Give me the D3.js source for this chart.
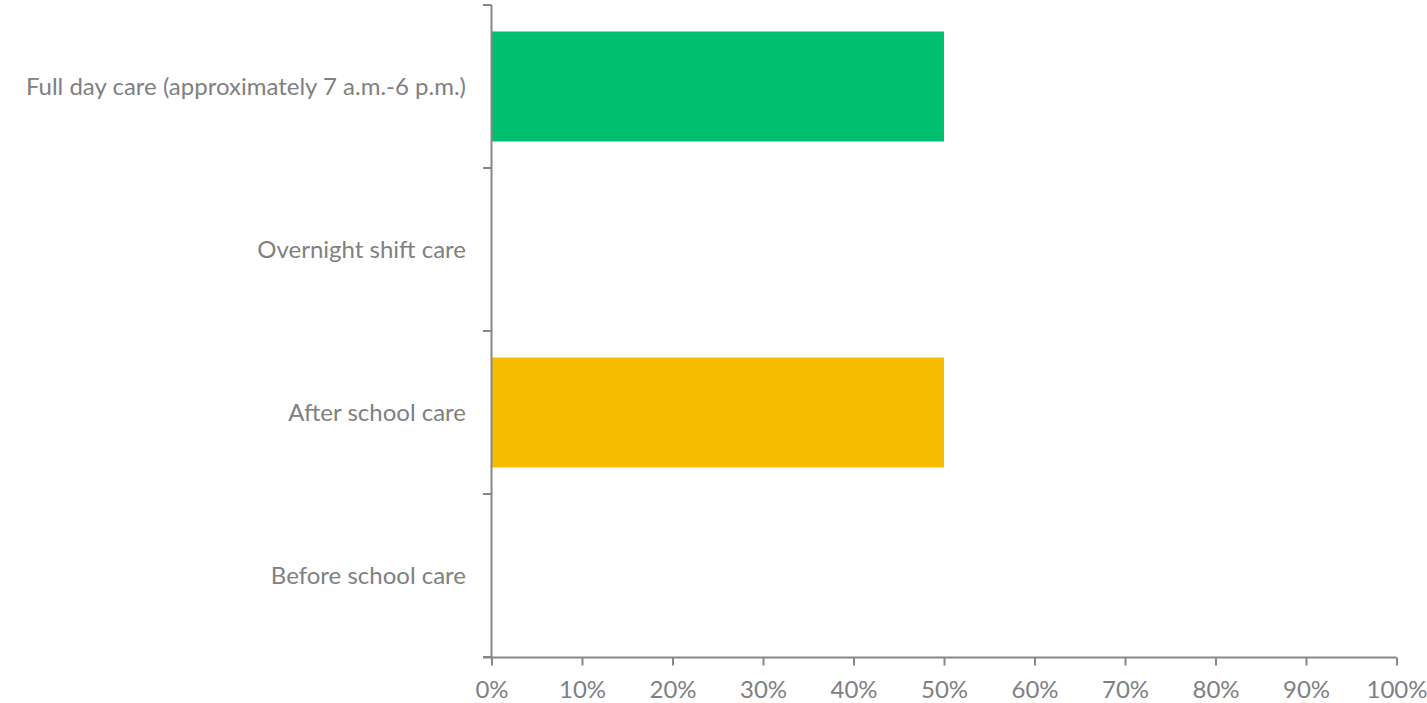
<!DOCTYPE html>
<html><head><meta charset="utf-8">
<script src="https://cdn.jsdelivr.net/npm/d3@7"></script>
<style>
html,body{margin:0;padding:0;background:#fff;}
svg{display:block;}
</style></head>
<body>
<svg id="c" width="1427" height="703"></svg>
<script>
const categories = ["Full day care (approximately 7 a.m.-6 p.m.)", "Overnight shift care", "After school care", "Before school care"];
const values = [0.5, 0, 0.5, 0];
const barColors = ["#00BF6F", "#4472C4", "#F5BC00", "#ED7D31"];
const tickValues = [0,0.1,0.2,0.3,0.4,0.5,0.6,0.7,0.8,0.9,1.0];

const svg = d3.select("#c");
const axisColor = "#878787";
const textColor = "#808080";
const font = "Lato, 'Open Sans', sans-serif";
const fontSize = 24;

const x = d3.scaleLinear().domain([0,1]).range([491.5, 1396.5]);
const y = d3.scaleBand().domain(categories).range([5, 657]).paddingInner(0.325).paddingOuter(0.1625);

svg.selectAll("rect.bar").data(categories).join("rect")
  .attr("class","bar")
  .attr("x", x(0))
  .attr("y", d => y(d))
  .attr("width", (d,i) => x(values[i]) - x(0))
  .attr("height", y.bandwidth())
  .attr("fill", (d,i) => barColors[i]);

// x axis
const xAxis = d3.axisBottom(x).tickValues(tickValues).tickFormat(d3.format(".0%")).tickSizeInner(8).tickSizeOuter(0).tickPadding(15);
const gx = svg.append("g").attr("transform","translate(0,657.5)").call(xAxis);
gx.select(".domain").attr("stroke", axisColor).attr("stroke-width",2).attr("d", `M${483},0H${x(1)}`);
gx.selectAll(".tick line").attr("stroke", axisColor).attr("stroke-width",2);
gx.selectAll(".tick text").attr("fill", textColor).attr("font-family", font).attr("font-size", fontSize);

// y axis: boundary ticks
const boundaries = d3.range(categories.length + 1).map(i => 5 + i * (652 / categories.length));
const gy = svg.append("g");
gy.append("line").attr("x1", 491.5).attr("x2", 491.5).attr("y1", 5).attr("y2", 657.5)
  .attr("stroke", axisColor).attr("stroke-width", 2);
gy.selectAll("line.bt").data(boundaries).join("line").attr("class","bt")
  .attr("x1", 483).attr("x2", 491.5).attr("y1", d => d).attr("y2", d => d)
  .attr("stroke", axisColor).attr("stroke-width", 2);
gy.selectAll("text").data(categories).join("text")
  .attr("x", 466)
  .attr("y", d => y(d) + y.bandwidth()/2)
  .attr("dy", "0.35em")
  .attr("text-anchor", "end")
  .attr("fill", textColor)
  .attr("font-family", font)
  .attr("font-size", fontSize)
  .text(d => d);
</script>
</body></html>
